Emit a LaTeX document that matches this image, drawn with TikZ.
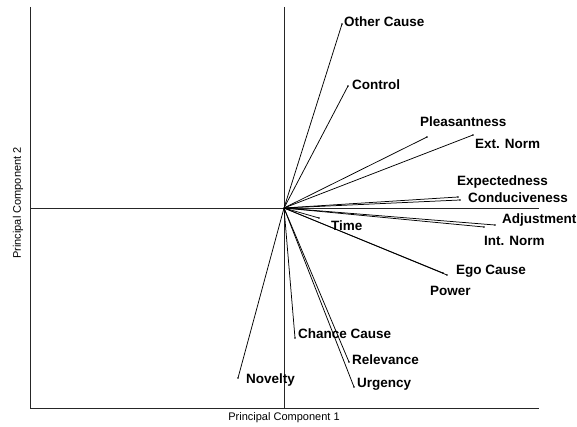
\documentclass[tikz,border=0pt]{standalone}
\usepackage{fontspec}
\setmainfont{Liberation Sans}
\begin{document}
\begin{tikzpicture}[x=1pt,y=-1pt,
  axisline/.style={line width=0.9pt,draw=black!85},
  loading/.style={line width=0.75pt,draw=black},
  tipdot/.style={circle,fill=black,inner sep=0pt,minimum size=1.8pt},
  vlabel/.style={anchor=base west,inner sep=0pt,font=\bfseries\fontsize{13.5}{15}\selectfont},
  axlabel/.style={inner sep=0pt,font=\fontsize{11}{13}\selectfont}]
\useasboundingbox (0,0) rectangle (577,427);
% frame and axes through the origin
\coordinate (O) at (284,208);
\coordinate (tl) at (30,7);
\coordinate (bl) at (30,408);
\coordinate (br) at (539,408);
\coordinate (ml) at (30,208);
\coordinate (mr) at (539,208);
\coordinate (vt) at (284,7);
\coordinate (vb) at (284,408);
\draw[axisline] (tl) -- (bl) -- (br);
\draw[axisline] (ml) -- (mr);
\draw[axisline] (vt) -- (vb);
\node[axlabel] (xlab) at (284,418) {Principal Component 1};
\node[axlabel,rotate=90] (ylab) at (18,203) {Principal Component 2};
% loading vectors: name / tip / label position / text
\foreach \n/\tx/\ty/\lx/\ly/\txt in {
  oth/342/24/344/27/Other Cause,
  ctl/348/86/352/90/Control,
  ple/427/137/420/127/Pleasantness,
  ext/473/135/475/149/Ext. Norm,
  exp/458/197/457/186/Expectedness,
  con/460/200/468/203/Conduciveness,
  adj/495/225/502/224/Adjustment,
  int/484/227/484/246/Int. Norm,
  tim/319/218/331/230/Time,
  ego/447/275/456/274/Ego Cause,
  pow/443/273/430/295/Power,
  cha/295/338/298/338/Chance Cause,
  rel/349/362/352/364/Relevance,
  urg/354/387/357/387/Urgency,
  nov/238/378/246/383/Novelty}{
  \node[tipdot] (\n) at (\tx,\ty) {};
  \draw[loading] (O) -- (\n.center);
  \node[vlabel] (\n-l) at (\lx,\ly) {\txt};
}
\end{tikzpicture}
\end{document}
